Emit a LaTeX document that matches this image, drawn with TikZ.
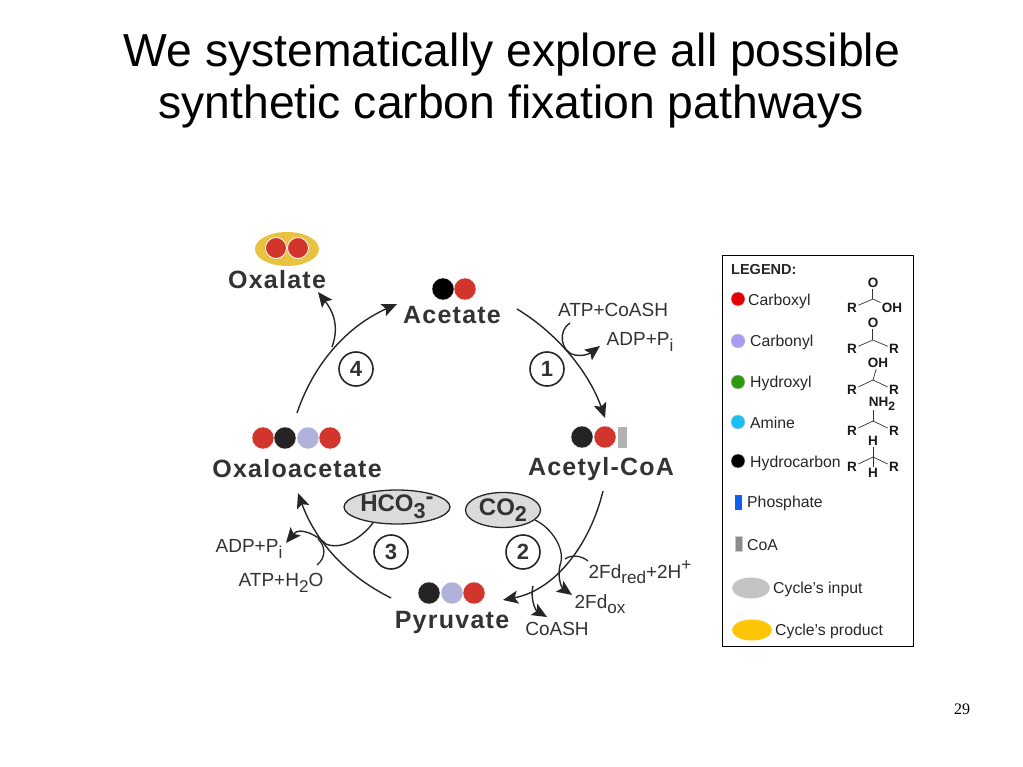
\documentclass[tikz,border=0pt]{standalone}
\usepackage{fontspec}
\setmainfont{Liberation Sans}
\newfontfamily\spacedfont[LetterSpace=5]{Liberation Sans}
\newfontfamily\pagefont{Liberation Serif}
\usetikzlibrary{arrows.meta}
\usetikzlibrary{positioning, shapes.geometric}
\definecolor{acidred}{HTML}{D2352C}
\definecolor{darkball}{HTML}{262324}
\definecolor{paleball}{HTML}{B0B2DA}
\definecolor{inkgray}{HTML}{333333}
\definecolor{oxalateyellow}{HTML}{E9C33F}
\definecolor{keyyellow}{HTML}{FFC608}
\definecolor{keyviolet}{HTML}{A89CF0}
\definecolor{keygreen}{HTML}{2E9A10}
\definecolor{keycyan}{HTML}{19BFF5}
\definecolor{keyblue}{HTML}{0F5FF0}
\newcommand{\lowpart}[1]{\raisebox{-0.28em}{\scalebox{0.9}{#1}}}

\begin{document}
\begin{tikzpicture}[
    x=1pt, y=-1pt,
    compound/.style={font=\spacedfont\fontsize{25}{25}\selectfont\bfseries, text=inkgray, inner sep=0pt},
    side text/.style={font=\fontsize{19}{22}\selectfont, text=inkgray, inner sep=0pt},
    ball/.style={circle, minimum size=22pt, inner sep=0pt, draw=white, line width=0.3pt},
    step number/.style={circle, draw=black!85, line width=1.6pt, minimum size=34pt, inner sep=0pt, font=\fontsize{22}{22}\selectfont\bfseries, text=inkgray},
    cycle input/.style={ellipse, draw=black!85, line width=1.3pt, fill=black!14, inner sep=0pt, font=\fontsize{24}{24}\selectfont\bfseries, text=inkgray},
    pathway/.style={draw=black!85, line width=1.4pt, -{Stealth[length=15pt,width=13pt,inset=3pt]}},
    feed/.style={draw=black!85, line width=1.3pt},
    legend text/.style={anchor=west, inner sep=0pt, font=\fontsize{15.8}{18}\selectfont, text=black!85},
    legend ball/.style={circle, minimum size=14pt, inner sep=0pt, draw=black!20, line width=0.5pt},
    atom/.style={inner sep=1.2pt, font=\fontsize{13.5}{14}\selectfont\bfseries, text=black!90},
    atom bond/.style={draw=black!80, line width=0.7pt}
]
    \useasboundingbox (0,0) rectangle (1023,767);

    % title and page number
    \node (titleA) at (512,55) [inner sep=0pt, font=\fontsize{46.3}{46}\selectfont] {We systematically explore all possible};
    \node (titleB) at (511,107) [inner sep=0pt, font=\fontsize{46.3}{46}\selectfont] {synthetic carbon fixation pathways};
    \node (pagenum) at (962,709) [inner sep=0pt, font=\pagefont\fontsize{16}{16}\selectfont] {29};

    % compounds
    \node (oxalate) at (277,280) [compound] {Oxalate};
    \node (acetate) at (452,315) [compound] {Acetate};
    \node (acetyl) at (601,469) [compound] {Acetyl-CoA};
    \node (oxalo) at (297,469) [compound] {Oxaloacetate};
    \node (pyruvate) at (452,622) [compound] {Pyruvate};

    % coloured groups
    \node (oxalateback) at (287,249) [ellipse, minimum width=64pt, minimum height=34pt, fill=oxalateyellow, inner sep=0pt] {};
    \node (oxalateA) at (276,248) [ball, minimum size=21pt, fill=acidred, draw=white, line width=0.8pt] {};
    \node (oxalateB) at (298,248) [ball, minimum size=21pt, fill=acidred, draw=white, line width=0.8pt] {};
    \node (acetateA) at (443,289) [ball, fill=black] {};
    \node (acetateB) at (465,289) [ball, fill=acidred] {};
    \node (acetylA) at (582,437) [ball, fill=darkball] {};
    \node (acetylB) at (605,437) [ball, fill=acidred] {};
    \node (acetylC) at (622,437) [rectangle, minimum width=9pt, minimum height=21pt, inner sep=0pt, fill=black!30] {};
    \node (oxaloA) at (263,438) [ball, fill=acidred] {};
    \node (oxaloB) at (285,438) [ball, fill=darkball] {};
    \node (oxaloC) at (308,438) [ball, fill=paleball] {};
    \node (oxaloD) at (330,438) [ball, fill=acidred] {};
    \node (pyruvateA) at (429,593) [ball, fill=darkball] {};
    \node (pyruvateB) at (452,593) [ball, fill=paleball] {};
    \node (pyruvateC) at (474,593) [ball, fill=acidred] {};

    % step numbers
    \node (stepA) at (547,369) [step number] {1};
    \node (stepB) at (523,552) [step number] {2};
    \node (stepC) at (391,552) [step number] {3};
    \node (stepD) at (356,369) [step number] {4};

    % inputs of the cycle
    \node (hco) at (397,507) [cycle input, minimum width=106pt, minimum height=34pt] {HCO\lowpart{3}\raisebox{0.3em}{-}};
    \node (co) at (503,510) [cycle input, minimum width=75pt, minimum height=35pt] {CO\lowpart{2}};

    % side products
    \node (atpA) at (613,310) [side text] {ATP+CoASH};
    \node (adpA) at (640,342) [side text] {ADP+P\lowpart{i}};
    \node (fdred) at (640,572) [side text] {2Fd\lowpart{red}+2H\raisebox{0.42em}{\scalebox{0.9}{+}}};
    \node (fdox) at (600,604) [side text] {2Fd\lowpart{ox}};
    \node (coash) at (557,629) [side text] {CoASH};
    \node (adpB) at (249,549) [side text] {ADP+P\lowpart{i}};
    \node (atpB) at (281,583) [side text] {ATP+H\lowpart{2}O};

    % free ends of the arrows
    \coordinate (acetateout) at (517,309);
    \coordinate (acetylin) at (605,418);
    \coordinate (acetylout) at (603,491);
    \coordinate (pyruvatein) at (503,600);
    \coordinate (pyruvateout) at (391,598);
    \coordinate (oxaloin) at (298,493);
    \coordinate (oxaloout) at (297,413);
    \coordinate (acetatein) at (397,304);
    \coordinate (oxalatein) at (318,292);
    \coordinate (branch) at (332,347);
    \coordinate (atpAend) at (570,323);
    \coordinate (adpAtip) at (600,346);
    \coordinate (coend) at (535,520);
    \coordinate (fdoxtip) at (572,595);
    \coordinate (fdredend) at (588,561);
    \coordinate (coashstart) at (533,586);
    \coordinate (coashtip) at (547,617);
    \coordinate (hcoend) at (373,523);
    \coordinate (adpBtip) at (286,543);
    \coordinate (atpBend) at (317,565);

    % main cycle
    \draw[pathway] (acetateout) .. controls (560,335) and (590,375) .. (acetylin);
    \draw[pathway] (acetylout) .. controls (590,545) and (555,590) .. (pyruvatein);
    \draw[pathway] (pyruvateout) .. controls (345,575) and (315,540) .. (oxaloin);
    \draw[pathway] (oxaloout) .. controls (315,360) and (350,325) .. (acetatein);
    \draw[pathway] (branch) .. controls (340,325) and (332,310) .. (oxalatein);

    % inputs and products of the steps
    \draw[pathway] (atpAend) .. controls (558,330) and (560,352) .. (575,355) .. controls (585,357) and (592,352) .. (adpAtip);
    \draw[feed] (coend) .. controls (552,528) and (566,550) .. (560,565);
    \draw[pathway] (560,565) .. controls (557,578) and (562,588) .. (fdoxtip);
    \draw[feed] (fdredend) .. controls (582,556) and (572,554) .. (565,559);
    \draw[pathway] (coashstart) .. controls (530,597) and (535,610) .. (coashtip);
    \draw[pathway] (hcoend) .. controls (360,540) and (340,550) .. (326,544) .. controls (318,536) and (300,526) .. (adpBtip);
    \draw[feed] (atpBend) .. controls (327,557) and (325,545) .. (318,539);

    % legend
    \node (legendbox) at (817.5,450.5) [rectangle, draw=black, line width=0.9pt, minimum width=191pt, minimum height=391pt, inner sep=0pt] {};
    \node (legendtitle) at (731,270) [legend text, font=\fontsize{14.5}{16}\selectfont\bfseries] {LEGEND:};
    \node (carboxyl) at (738,299) [legend ball, fill=red!90!black] {};
    \node (carbonyl) at (738,341) [legend ball, fill=keyviolet] {};
    \node (hydroxyl) at (738,382) [legend ball, fill=keygreen] {};
    \node (amine) at (738,422) [legend ball, fill=keycyan] {};
    \node (hydrocarbon) at (738,461) [legend ball, fill=black] {};
    \node (phosphate) at (738.5,502) [rectangle, minimum width=7pt, minimum height=15pt, inner sep=0pt, fill=keyblue] {};
    \node (coenzyme) at (738.5,544) [rectangle, minimum width=7pt, minimum height=15pt, inner sep=0pt, fill=black!45, draw=black!20, line width=0.5pt] {};
    \node (inputkey) at (751,588) [ellipse, minimum width=38pt, minimum height=21pt, inner sep=0pt, fill=black!23] {};
    \node (productkey) at (752,630) [ellipse, minimum width=40pt, minimum height=21pt, inner sep=0pt, fill=keyyellow] {};
    \node [legend text] (carboxyltext) at (748,301) {Carboxyl};
    \node [legend text] (carbonyltext) at (750,342) {Carbonyl};
    \node [legend text] (hydroxyltext) at (750,383) {Hydroxyl};
    \node [legend text] (aminetext) at (750,423) {Amine};
    \node [legend text] (hydrocarbontext) at (750,463) {Hydrocarbon};
    \node [legend text] (phosphatetext) at (747,503) {Phosphate};
    \node [legend text] (coenzymetext) at (747,545) {CoA};
    \node [legend text] (inputtext) at (773,589) {Cycle's input};
    \node [legend text] (producttext) at (775,631) {Cycle's product};

    % carboxyl structure
    \coordinate (cA) at (873,299);
    \node (rA) at (852,308) [atom] {R};
    \node (oA) at (873,283) [atom] {O};
    \node (ohA) at (892,308) [atom] {OH};
    \draw[atom bond] (rA) -- (cA) -- (ohA);
    \draw[atom bond, double, double distance=1pt] (oA) -- (cA);
    % carbonyl structure
    \coordinate (cB) at (873,340);
    \node (rB) at (852,349) [atom] {R};
    \node (oB) at (873,323) [atom] {O};
    \node (rBB) at (894,349) [atom] {R};
    \draw[atom bond] (rB) -- (cB) -- (rBB);
    \draw[atom bond, double, double distance=1pt] (oB) -- (cB);
    % hydroxyl structure
    \coordinate (cC) at (873,380);
    \node (rC) at (852,390) [atom] {R};
    \node (ohC) at (878,363) [atom] {OH};
    \node (rCC) at (894,390) [atom] {R};
    \draw[atom bond] (rC) -- (cC) -- (rCC);
    \draw[atom bond] (ohC) -- (cC);
    % amine structure
    \coordinate (cD) at (873,421);
    \node (rD) at (852,431) [atom] {R};
    \node (nhD) at (882,404) [atom] {NH\lowpart{2}};
    \node (rDD) at (894,431) [atom] {R};
    \draw[atom bond] (rD) -- (cD) -- (rDD);
    \draw[atom bond] (cD) -- (873,410);
    % hydrocarbon structure
    \coordinate (cE) at (873,457);
    \node (rE) at (852,467) [atom] {R};
    \node (hE) at (873,441) [atom] {H};
    \node (hEE) at (873,473) [atom] {H};
    \node (rEE) at (894,467) [atom] {R};
    \draw[atom bond] (rE) -- (cE) -- (rEE);
    \draw[atom bond] (hE) -- (hEE);
\end{tikzpicture}
\end{document}
